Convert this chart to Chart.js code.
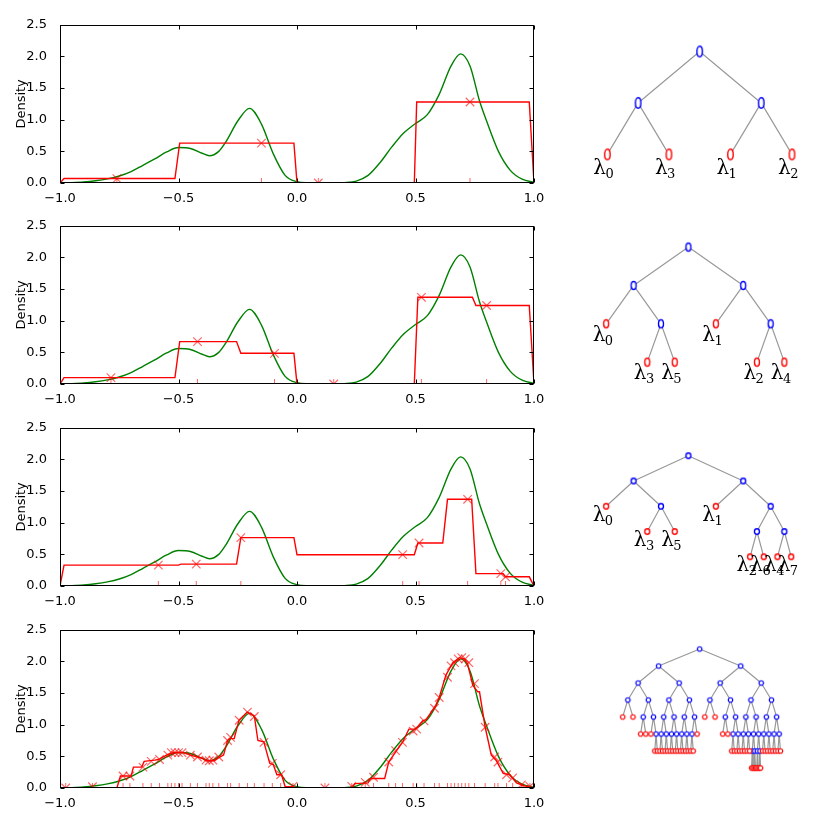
<!DOCTYPE html>
<html><head><meta charset="utf-8">
<script src="https://cdn.jsdelivr.net/npm/chart.js@4.4.1/dist/chart.umd.min.js"></script>
<style>
html,body{margin:0;padding:0;background:#fff;}
#wrap{position:relative;width:822px;height:822px;overflow:hidden;background:#fff;}
canvas{position:absolute;}
</style></head><body><div id="wrap"></div>
<script>
// ---------- DATA ----------
const xTickValues = [-1, -0.5, 0, 0.5, 1];
const yTickValues = [0, 0.5, 1, 1.5, 2, 2.5];
const yAxisLabel = 'Density';

// true density (green)
const trueX = [-1.0,-0.95,-0.9,-0.85,-0.8,-0.75,-0.7,-0.65,-0.6,-0.55,-0.5,-0.45,-0.4,-0.37,-0.33,-0.3,-0.25,-0.2,-0.15,-0.1,-0.05,0.0,0.05,0.1,0.15,0.2,0.25,0.3,0.35,0.4,0.45,0.5,0.55,0.6,0.65,0.69,0.73,0.77,0.8,0.85,0.9,0.95,1.0];
const trueY = [0.0,0.005,0.015,0.035,0.065,0.11,0.18,0.28,0.38,0.49,0.56,0.545,0.47,0.43,0.5,0.65,0.98,1.18,0.93,0.46,0.12,0.02,0.003,0.0,0.0,0.005,0.03,0.12,0.32,0.57,0.79,0.94,1.08,1.40,1.85,2.04,1.85,1.3,0.98,0.5,0.2,0.06,0.01];

// estimated densities (red lines)
const est1 = [[-1,0],[-0.983,0.07],[-0.515,0.07],[-0.495,0.63],[-0.013,0.63],[0,0],[0.495,0],[0.505,1.28],[0.98,1.28],[1,0]];
const est2 = [[-1,0],[-0.983,0.1],[-0.515,0.1],[-0.495,0.67],[-0.255,0.67],[-0.237,0.485],[-0.013,0.485],[0,0],[0.495,0],[0.51,1.37],[0.74,1.37],[0.755,1.24],[0.98,1.24],[1,0]];
const est3 = [[-1,0],[-0.983,0.33],[-0.5,0.33],[-0.49,0.345],[-0.255,0.345],[-0.237,0.765],[-0.013,0.765],[0,0.495],[0.495,0.495],[0.51,0.68],[0.615,0.68],[0.635,1.37],[0.737,1.37],[0.755,0.195],[0.87,0.195],[0.88,0.145],[0.98,0.145],[1,0]];
const est4 = [[-1,0],[-0.76,0],[-0.745,0.19],[-0.70,0.19],[-0.69,0.33],[-0.655,0.33],[-0.645,0.42],[-0.6,0.44],[-0.585,0.45],[-0.545,0.53],[-0.52,0.56],[-0.48,0.56],[-0.45,0.52],[-0.42,0.49],[-0.4,0.47],[-0.385,0.43],[-0.35,0.43],[-0.33,0.48],[-0.31,0.52],[-0.293,0.75],[-0.285,0.78],[-0.265,0.78],[-0.245,1.07],[-0.21,1.2],[-0.18,1.14],[-0.165,0.75],[-0.14,0.73],[-0.115,0.39],[-0.1,0.37],[-0.085,0.21],[-0.065,0.21],[-0.05,0.02],[-0.02,0.02],[0.0,0.0],[0.23,0.0],[0.245,0.07],[0.3,0.08],[0.31,0.15],[0.37,0.15],[0.387,0.41],[0.42,0.59],[0.445,0.72],[0.472,0.93],[0.5,0.93],[0.53,1.06],[0.545,1.08],[0.586,1.31],[0.6,1.43],[0.628,1.78],[0.657,1.98],[0.685,2.06],[0.706,2.04],[0.72,1.96],[0.742,1.62],[0.763,1.52],[0.77,1.52],[0.794,0.96],[0.82,0.52],[0.84,0.44],[0.87,0.23],[0.898,0.21],[0.926,0.08],[0.955,0.04],[1.0,0.0]];

// sample points (x markers and rug)
const obs1 = [[-0.76,0.07],[-0.15,0.63],[0.09,0],[0.73,1.28]];
const obs2 = [[-0.785,0.1],[-0.42,0.67],[-0.095,0.485],[0.155,0],[0.525,1.37],[0.8,1.24]];
const obs3 = [[-0.585,0.33],[-0.425,0.345],[-0.237,0.765],[0.446,0.495],[0.515,0.68],[0.72,1.37],[0.86,0.195],[0.88,0.145]];
const obs4 = [[-0.976,0.0],[-0.863,0.02],[-0.734,0.19],[-0.705,0.19],[-0.65,0.33],[-0.615,0.42],[-0.58,0.45],[-0.545,0.52],[-0.53,0.56],[-0.515,0.56],[-0.5,0.56],[-0.485,0.56],[-0.45,0.52],[-0.42,0.49],[-0.384,0.44],[-0.37,0.43],[-0.355,0.44],[-0.33,0.49],[-0.293,0.75],[-0.28,0.8],[-0.244,1.07],[-0.209,1.2],[-0.18,1.13],[-0.139,0.72],[-0.104,0.39],[-0.069,0.21],[-0.017,0.025],[0.118,0.0],[0.231,0.025],[0.288,0.09],[0.323,0.17],[0.387,0.41],[0.416,0.59],[0.445,0.72],[0.49,0.9],[0.505,0.93],[0.536,1.06],[0.58,1.26],[0.6,1.43],[0.635,1.75],[0.65,1.93],[0.665,1.98],[0.68,2.04],[0.695,2.06],[0.71,2.04],[0.725,1.98],[0.749,1.65],[0.794,0.96],[0.834,0.49],[0.848,0.41],[0.884,0.21],[0.91,0.16],[0.947,0.05],[0.983,0.025]];

// partition trees (leaf = lambda index, null = unlabeled leaf, array = split node)
const _ = null;
const tree1 = [[0, 3], [1, 2]];
const tree2 = [[0, [3, 5]], [1, [2, 4]]];
const tree3 = [[0, [3, 5]], [1, [[2, 6], [4, 7]]]];
const tree4 = [
  [
    [[_,_], [[_,_], [_,[_,_]]]],
    [[[[_,_],[_,_]], [[_,_],[_,_]]], [[[_,_],[_,_]], [[_,_],_]]]
  ],
  [
    [[_,_], [[_,_], [[_,_],[_,_]]]],
    [[[[_,_],[_,_]], [[[_,_],[_,_]],[[_,_],[_,_]]]], [[[_,_],[_,_]], [[_,_],[_,_]]]]
  ]
];

// ---------- RENDER ----------
Chart.defaults.font.family = 'DejaVu Sans';
Chart.defaults.font.size = 13;
Chart.defaults.color = '#000';
const wrap = document.getElementById('wrap');

function makeCanvas(left, top, w, h) {
  const c = document.createElement('canvas');
  c.width = w; c.height = h;
  c.style.left = left + 'px'; c.style.top = top + 'px';
  c.style.width = w + 'px'; c.style.height = h + 'px';
  wrap.appendChild(c);
  return c;
}
const fmt = v => (Math.round(v * 10) / 10).toFixed(1).replace('-', '\u2212');

const framePlugin = {
  id: 'frame',
  afterDatasetsDraw(chart) {
    const {ctx, chartArea: a, scales: {x, y}} = chart;
    ctx.save();
    ctx.strokeStyle = '#000';
    ctx.lineWidth = 1;
    const L = Math.round(a.left) + 0.5, R = Math.round(a.right) - 0.5;
    const T = Math.round(a.top) + 0.5, B = Math.round(a.bottom) - 0.5;
    ctx.strokeRect(L, T, R - L, B - T);
    ctx.beginPath();
    xTickValues.forEach(v => {
      const px = Math.round(x.getPixelForValue(v)) + 0.5;
      ctx.moveTo(px, B); ctx.lineTo(px, B - 4);
      ctx.moveTo(px, T); ctx.lineTo(px, T + 4);
    });
    yTickValues.forEach(v => {
      const py = Math.round(y.getPixelForValue(v)) + 0.5;
      ctx.moveTo(L, py); ctx.lineTo(L + 4, py);
      ctx.moveTo(R, py); ctx.lineTo(R - 4, py);
    });
    ctx.stroke();
    ctx.restore();
  }
};

const toXY = arr => arr.map(p => ({x: p[0], y: p[1]}));
const trueData = trueX.map((v, i) => ({x: v, y: trueY[i]}));

function densityChart(top, est, obs) {
  const c = makeCanvas(0, top, 550, 201);
  new Chart(c, {
    type: 'scatter',
    data: {
      datasets: [
        {data: toXY(obs), showLine: false, pointStyle: 'crossRot', pointRadius: 6, borderColor: 'rgba(255,0,0,0.6)', backgroundColor: 'rgba(255,0,0,0.6)', pointBorderWidth: 1.2, order: 0},
        {data: obs.map(p => ({x: p[0], y: 0})), showLine: false, pointStyle: 'line', rotation: 90, pointRadius: 5, borderColor: 'rgba(255,0,0,0.6)', pointBorderWidth: 1, order: 1},
        {data: toXY(est), showLine: true, pointRadius: 0, borderColor: '#ff0000', borderWidth: 1.4, tension: 0, order: 2},
        {data: trueData, showLine: true, pointRadius: 0, borderColor: '#008000', borderWidth: 1.4, cubicInterpolationMode: 'monotone', order: 3}
      ]
    },
    options: {
      responsive: false, animation: false, events: [],
      layout: {padding: {left: 0, right: 16, top: 10, bottom: 0}},
      plugins: {legend: {display: false}, tooltip: {enabled: false}},
      scales: {
        x: {
          type: 'linear', min: -1, max: 1,
          grid: {display: false}, border: {display: false},
          ticks: {stepSize: 0.5, padding: 0, maxRotation: 0, callback: v => fmt(v)},
          afterFit: s => { s.height = 30; }
        },
        y: {
          type: 'linear', min: 0, max: 2.5,
          grid: {display: false}, border: {display: false},
          ticks: {stepSize: 0.5, padding: 5, callback: v => fmt(v)},
          title: {display: true, text: yAxisLabel, padding: {top: 14, bottom: 0}, font: {size: 13}},
          afterFit: s => { s.width = 60; }
        }
      }
    },
    plugins: [framePlugin]
  });
}

densityChart(12, est1, obs1);
densityChart(213, est2, obs2);
densityChart(415, est3, obs3);
densityChart(617, est4, obs4);

function marker(w, h, color, lw) {
  const c = document.createElement('canvas');
  c.width = Math.ceil(w + lw * 2 + 2);
  c.height = Math.ceil(h + lw * 2 + 2);
  const g = c.getContext('2d');
  g.strokeStyle = color; g.lineWidth = lw; g.fillStyle = '#fff';
  g.beginPath();
  g.ellipse(c.width / 2, c.height / 2, w / 2, h / 2, 0, 0, Math.PI * 2);
  g.fill(); g.stroke();
  return c;
}

function treeChart(tree, p) {
  const cl = 560, cw = 262, ch = 180;
  const c = makeCanvas(cl, p.top, cw, ch);
  const nodes = [], edges = [];
  (function walk(n, x, d, parent) {
    const isInner = Array.isArray(n);
    const node = {x: x, y: d, inner: isInner, label: isInner ? null : n};
    nodes.push(node);
    if (parent) edges.push({x: parent.x, y: parent.y}, {x: x, y: d}, {x: x, y: null});
    if (isInner) {
      const off = Math.pow(0.5, d + 1);
      walk(n[0], x - off, d + 1, node);
      walk(n[1], x + off, d + 1, node);
    }
  })(tree, 0, 0, null);
  const ppu = p.half / 0.5;
  const xmin = (cl - p.root) / ppu, xmax = (cl + cw - p.root) / ppu;
  const ymin = (p.top - p.d0) / p.step, ymax = (p.top + ch - p.d0) / p.step;
  const blue = marker(p.mw, p.mh, '#0000ff', p.lw);
  const red = marker(p.mw, p.mh, '#ff0000', p.lw);
  const labelPlugin = {
    id: 'lbl',
    afterDatasetsDraw(chart) {
      const {ctx, scales: {x, y}} = chart;
      ctx.save();
      ctx.fillStyle = '#000';
      ctx.textBaseline = 'alphabetic';
      ctx.textAlign = 'left';
      nodes.forEach(n => {
        if (n.inner || n.label === null) return;
        const px = x.getPixelForValue(n.x) + p.dx;
        const py = y.getPixelForValue(n.y) + p.dy;
        ctx.font = '20px "DejaVu Serif"';
        ctx.fillText('\u03bb', px, py);
        const w = ctx.measureText('\u03bb').width;
        ctx.font = '13px "DejaVu Serif"';
        ctx.fillText(String(n.label), px + w - 0.5, py + 4);
      });
      ctx.restore();
    }
  };
  new Chart(c, {
    type: 'scatter',
    data: {
      datasets: [
        {data: nodes.filter(n => !n.inner), pointStyle: red, pointRadius: 3, order: 0},
        {data: nodes.filter(n => n.inner), pointStyle: blue, pointRadius: 3, order: 1},
        {data: edges, showLine: true, spanGaps: false, pointRadius: 0, borderColor: '#999999', borderWidth: 1.2, order: 2}
      ]
    },
    options: {
      responsive: false, animation: false, events: [],
      layout: {padding: 0},
      plugins: {legend: {display: false}, tooltip: {enabled: false}},
      scales: {
        x: {type: 'linear', display: false, min: xmin, max: xmax},
        y: {type: 'linear', display: false, reverse: true, min: ymin, max: ymax}
      }
    },
    plugins: [labelPlugin]
  });
}

treeChart(tree1, {top: 20, root: 700, half: 64, d0: 48, step: 54.5, mw: 5.5, mh: 10.5, lw: 1.4, dx: -14, dy: 20});
treeChart(tree2, {top: 222, root: 688.3, half: 57, d0: 243.3, step: 40.6, mw: 5, mh: 8, lw: 1.4, dx: -13.5, dy: 17});
treeChart(tree3, {top: 424, root: 688.3, half: 57, d0: 452.3, step: 26.75, mw: 5, mh: 5.5, lw: 1.4, dx: -13.5, dy: 14.5});
treeChart(tree4, {top: 626, root: 700, half: 42.67, d0: 645, step: 18, mw: 4.5, mh: 4.5, lw: 1.2, dx: 0, dy: 0});
</script>
</body></html>
